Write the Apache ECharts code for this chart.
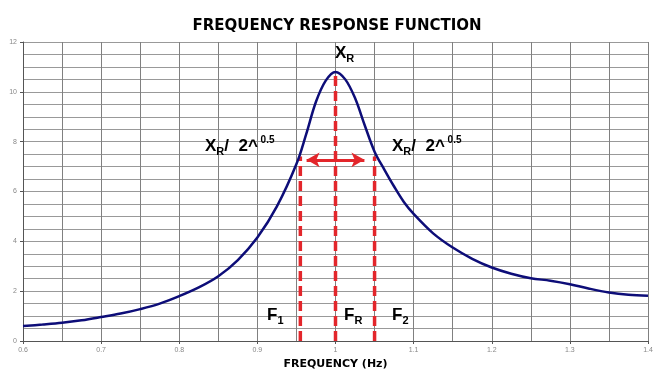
<!DOCTYPE html>
<html>
<head>
<meta charset="utf-8">
<script src="https://cdn.jsdelivr.net/npm/echarts@6/dist/echarts.min.js"></script>
<style>html,body{margin:0;padding:0;background:#fff}#c{width:669px;height:384px}</style>
</head>
<body>
<div id="c"></div>
<script>
// Frequency (Hz) and response amplitude
var freq = [0.6, 0.625, 0.65, 0.675, 0.7, 0.725, 0.75, 0.775, 0.8, 0.825, 0.85, 0.875, 0.9, 0.925, 0.95, 0.9625, 0.975, 0.9875, 1.0, 1.0125, 1.025, 1.0375, 1.05, 1.0625, 1.075, 1.0875, 1.1, 1.125, 1.15, 1.175, 1.2, 1.225, 1.25, 1.275, 1.3, 1.325, 1.35, 1.375, 1.4];
var amp  = [0.6, 0.66, 0.73, 0.83, 0.96, 1.1, 1.28, 1.5, 1.8, 2.15, 2.6, 3.25, 4.15, 5.4, 7.1, 8.3, 9.6, 10.45, 10.8, 10.5, 9.75, 8.65, 7.6, 6.88, 6.2, 5.58, 5.1, 4.32, 3.75, 3.3, 2.95, 2.7, 2.52, 2.42, 2.28, 2.1, 1.95, 1.86, 1.82];
// Marker frequencies and heights
var markFreq = [0.955, 1.0, 1.05];   // F1, FR, F2
var markTop  = [7.4, 10.7, 7.4];
var arrowFreq = [0.963, 1.037];
var arrowLevel = 7.27;
var xTicks = ['0.6','0.7','0.8','0.9','1','1.1','1.2','1.3','1.4'];
var yTicks = ['0','2','4','6','8','10','12'];

var curve = freq.map(function (f, i) { return [f, amp[i]]; });
var red = '#e3262b';
var markSeries = markFreq.map(function (f, i) {
  return {
    type: 'line', data: [[f, 0], [f, markTop[i]]], symbol: 'none', silent: true, z: 3,
    lineStyle: { color: red, width: 3.5, type: [10, 5] }
  };
});

var chart = echarts.init(document.getElementById('c'), null, { renderer: 'canvas' });
var vColor = '#808080', hColor = '#999999';
var option = {
  animation: false,
  backgroundColor: '#fff',
  title: {
    text: 'FREQUENCY RESPONSE FUNCTION', left: 332, top: 14, textAlign: 'center',
    textStyle: { fontFamily: 'DejaVu Sans', fontWeight: 'bold', fontSize: 15, color: '#000' }
  },
  grid: { left: 23, right: 21, top: 42, bottom: 43 },
  xAxis: {
    type: 'value', min: 0.6, max: 1.4, interval: 0.1,
    name: 'FREQUENCY (Hz)', nameLocation: 'middle', nameGap: 16,
    nameTextStyle: { fontFamily: 'DejaVu Sans', fontWeight: 'bold', fontSize: 11, color: '#000' },
    axisLine: { lineStyle: { color: '#555', width: 1 } },
    axisTick: { show: true, length: 3, lineStyle: { color: '#555' } },
    axisLabel: {
      fontSize: 7, color: '#888', margin: 6, fontFamily: 'Liberation Sans',
      formatter: function (v) { var i = Math.round((v - 0.6) * 10); return xTicks[i] || ''; }
    },
    splitLine: { show: true, lineStyle: { color: vColor, width: 1 } },
    minorTick: { show: true, splitNumber: 2, length: 0 },
    minorSplitLine: { show: true, lineStyle: { color: vColor, width: 1 } }
  },
  yAxis: {
    type: 'value', min: 0, max: 12, interval: 2,
    axisLine: { show: true, lineStyle: { color: '#555', width: 1 } },
    axisTick: { show: true, length: 3, lineStyle: { color: '#555' } },
    axisLabel: {
      fontSize: 7, color: '#888', margin: 6, fontFamily: 'Liberation Sans',
      formatter: function (v) { return yTicks[Math.round(v / 2)] || ''; }
    },
    splitLine: { show: true, lineStyle: { color: hColor, width: 1 } },
    minorTick: { show: true, splitNumber: 4, length: 0 },
    minorSplitLine: { show: true, lineStyle: { color: hColor, width: 1 } }
  },
  series: [
    {
      type: 'line', data: curve, symbol: 'none', smooth: 0.35, z: 4,
      lineStyle: { color: '#0d0d78', width: 2.5 }
    }
  ].concat(markSeries).concat([{
    type: 'line', data: [], symbol: 'none', z: 5,
    markLine: {
      silent: true, symbol: ['arrow', 'arrow'], symbolSize: [11, 13],
      label: { show: false },
      lineStyle: { color: red, width: 3, type: 'solid' },
      data: [[{ coord: [arrowFreq[0], arrowLevel] }, { coord: [arrowFreq[1], arrowLevel] }]]
    }
  }])
};
chart.setOption(option);

var rich = {
  b: { fontFamily: 'Liberation Sans', fontWeight: 'bold', fontSize: 17, color: '#000', lineHeight: 22 },
  sub: { fontFamily: 'Liberation Sans', fontWeight: 'bold', fontSize: 11, color: '#000', lineHeight: 12, verticalAlign: 'bottom' },
  sup: { fontFamily: 'Liberation Sans', fontWeight: 'bold', fontSize: 10, color: '#000', lineHeight: 12, verticalAlign: 'top' }
};
function label(x, y, text) {
  return { type: 'text', left: x, top: y, z: 10, style: { text: text, rich: rich } };
}
chart.setOption({
  graphic: [
    label(335, 45, '{b|X}{sub|R}'),
    label(205, 135, '{b|X}{sub|R}{b|/  2^}{sup| 0.5}'),
    label(392, 135, '{b|X}{sub|R}{b|/  2^}{sup| 0.5}'),
    label(267, 307, '{b|F}{sub|1}'),
    label(344, 307, '{b|F}{sub|R}'),
    label(392, 307, '{b|F}{sub|2}')
  ]
});
</script>
</body>
</html>
